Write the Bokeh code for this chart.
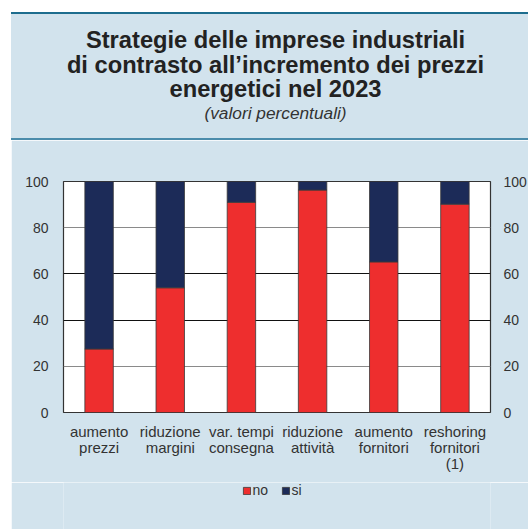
from bokeh.plotting import figure
from bokeh.layouts import column
from bokeh.models import (FactorRange, Range1d, LinearAxis, FixedTicker, Grid,
                          Legend, LegendItem, Div)
from bokeh.embed import file_html
from bokeh.resources import INLINE

# ---- data ----
categories = ["aumento\nprezzi", "riduzione\nmargini", "var. tempi\nconsegna",
              "riduzione\nattività", "aumento\nfornitori", "reshoring\nfornitori\n(1)"]
no_vals = [27.5, 54.0, 91.0, 96.3, 65.2, 90.2]
si_vals = [72.5, 46.0, 9.0, 3.7, 34.8, 9.8]
series = ["no", "si"]
y_ticks = [0, 20, 40, 60, 80, 100]
title_lines = ["Strategie delle imprese industriali",
               "di contrasto all\u2019incremento dei prezzi",
               "energetici nel 2023"]
subtitle = "(valori percentuali)"

# ---- style ----
FONT = "Liberation Sans"
PANEL = "#d2e3ed"
RED = "#ee2e2e"
NAVY = "#1c2b58"
TXT = "#333333"
FULL_W = 517
COLORS = [RED, NAVY]

# ---------- header (title block) ----------
title_html = "<br>".join(title_lines)
html = (
    f'<div style="width:{FULL_W}px;height:128px;box-sizing:border-box;background:{PANEL};'
    f'border-top:2px solid #1d6d8e;border-bottom:2px solid #4b8cab;margin:0;'
    f'padding:14px 0 0 0;text-align:center;font-family:\'{FONT}\';">'
    f'<div style="font-size:23.7px;font-weight:bold;line-height:24.5px;color:#222;'
    f'padding-left:12px;">{title_html}</div>'
    f'<div style="font-size:17.3px;font-style:italic;line-height:22px;color:{TXT};'
    f'padding-left:12px;">{subtitle}</div></div>'
)
hdr = Div(text=html, width=FULL_W, height=128, margin=(12, 0, 0, 11))

# ---------- main chart ----------
p = figure(frame_width=427, frame_height=231, x_range=FactorRange(factors=categories),
           y_range=Range1d(0, 100), output_backend="svg", toolbar_location=None,
           title=None, min_border_left=52, min_border_right=38,
           min_border_top=41, min_border_bottom=70)
p.margin = (0, 0, 0, 11)
p.border_fill_color = PANEL
p.background_fill_color = "white"
p.outline_line_color = "#333333"
p.outline_line_width = 1.2

data = {"cat": categories, "no": no_vals, "si": si_vals}
rs = p.vbar_stack(series, x="cat", width=0.4, source=data,
                  color=COLORS, line_color="#3a3a3a", line_width=0.8)

p.yaxis.ticker = FixedTicker(ticks=y_ticks)
raxis = LinearAxis(ticker=FixedTicker(ticks=y_ticks))
p.add_layout(raxis, "right")
for ax in [p.yaxis[0], raxis, p.xaxis[0]]:
    ax.axis_line_color = None
    ax.major_tick_line_color = None
    ax.minor_tick_line_color = None
    ax.major_tick_out = 0
    ax.major_tick_in = 0
    ax.major_label_text_font = FONT
    ax.major_label_text_font_size = "14px"
    ax.major_label_text_color = TXT
p.xaxis[0].major_label_text_font_size = "15px"
p.xaxis[0].major_label_text_line_height = 0.96
p.yaxis[0].major_label_standoff = 15
raxis.major_label_standoff = 13
p.xaxis[0].major_label_standoff = 10

p.xgrid.grid_line_color = None
p.ygrid.ticker = FixedTicker(ticks=[y_ticks[1], y_ticks[4]])
p.ygrid.grid_line_color = "#8a8a8a"
p.ygrid.grid_line_width = 1.2
g2 = Grid(dimension=1, ticker=FixedTicker(ticks=[y_ticks[2], y_ticks[3]]),
          grid_line_color="#111111", grid_line_width=1.2)
p.add_layout(g2)

# ---------- legend strip (bars kept out of view, only the legend shows) ----------
lg = figure(frame_width=427, frame_height=47, x_range=FactorRange(factors=categories),
            y_range=Range1d(200, 300), output_backend="svg", toolbar_location=None,
            title=None, min_border_left=52, min_border_right=38, min_border_top=0,
            min_border_bottom=0, x_axis_type=None, y_axis_type=None)
lg.margin = (0, 0, 0, 11)
lg.border_fill_color = PANEL
lg.background_fill_color = PANEL
lg.outline_line_color = None
lg.grid.visible = False
lrs = lg.vbar_stack(series, x="cat", width=0.4, source=data,
                    color=COLORS, line_color="#3a3a3a", line_width=0.8)
legend = Legend(items=[LegendItem(label=s, renderers=[r]) for s, r in zip(series, lrs)],
                orientation="horizontal", location="top_center",
                label_text_font=FONT, label_text_font_size="14px", label_text_color=TXT,
                glyph_width=9, glyph_height=9, label_standoff=2, spacing=8,
                padding=0, margin=0, background_fill_alpha=0, border_line_color=None,
                label_height=14)
lg.add_layout(legend)

layout = column(hdr, p, lg, spacing=0)
open("out.html", "w").write(file_html(layout, INLINE))
